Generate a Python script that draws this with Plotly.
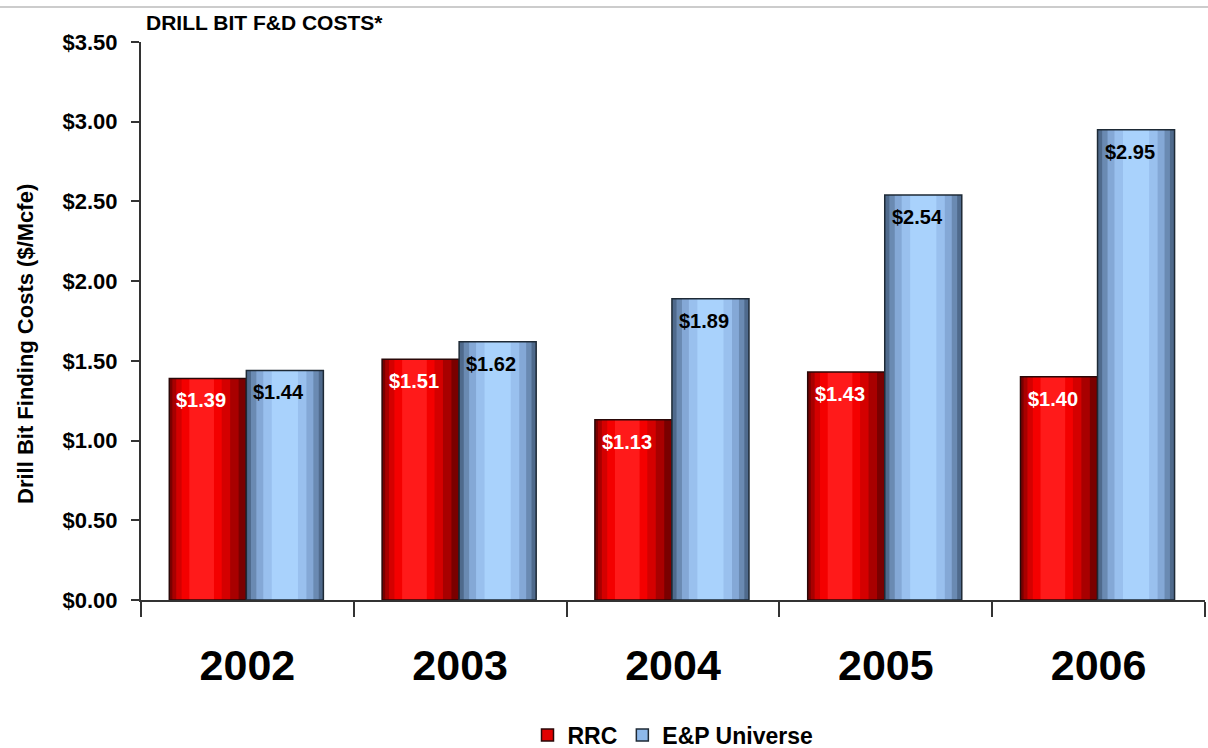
import plotly.graph_objects as go

years = ["2002", "2003", "2004", "2005", "2006"]
rrc = [1.39, 1.51, 1.13, 1.43, 1.40]
ep_universe = [1.44, 1.62, 1.89, 2.54, 2.95]
y_ticks = [0, 0.5, 1.0, 1.5, 2.0, 2.5, 3.0, 3.5]
y_tick_labels = ["$0.00", "$0.50", "$1.00", "$1.50", "$2.00", "$2.50", "$3.00", "$3.50"]

FONT = "Arial, Liberation Sans, sans-serif"
PLOT_L, PLOT_R, PLOT_T, PLOT_B = 141, 3, 42, 148
PLOT_H = 748 - PLOT_T - PLOT_B
PLOT_W = 1208 - PLOT_L - PLOT_R

def py(px):
    return (748 - PLOT_B - px) / PLOT_H

def px_(x):
    return (x - PLOT_L) / PLOT_W

BAR_W = 0.362  # bar width in category units
series = [
    dict(name="RRC", values=rrc, offset=-0.367, text_color="white",
         line="#2a0808",
         # (fraction of width, shift fraction, colour) from outer to inner
         layers=[(1.0, 0.0, "#7a0000"), (0.86, -0.03, "#a80000"), (0.70, -0.06, "#d40000"),
                 (0.52, -0.08, "#f40000"), (0.32, -0.08, "#ff1a1a")],
         legend_color="#e00000"),
    dict(name="E&P Universe", values=ep_universe, offset=-0.005, text_color="black",
         line="#1e2a36",
         layers=[(1.0, 0.0, "#4f6a8c"), (0.88, 0.0, "#6a8ab2"), (0.74, 0.0, "#84a8d6"),
                 (0.56, 0.0, "#99c0ee"), (0.34, 0.0, "#a9d2fc")],
         legend_color="#8db8ea"),
]

fig = go.Figure()
for s in series:
    for k, (frac, shift, col) in enumerate(s["layers"]):
        w = BAR_W * frac
        center = s["offset"] + BAR_W / 2 + shift * BAR_W
        fig.add_trace(go.Bar(
            x=years, y=s["values"], name=s["name"], legendgroup=s["name"],
            width=[w] * len(years), offset=[center - w / 2] * len(years),
            marker=dict(color=col, line=dict(width=0)),
            showlegend=False, hoverinfo="skip",
        ))
    # outline layer
    fig.add_trace(go.Bar(
        x=years, y=s["values"], name=s["name"], legendgroup=s["name"],
        width=[BAR_W] * len(years), offset=[s["offset"]] * len(years),
        marker=dict(color="rgba(0,0,0,0)", line=dict(color=s["line"], width=1.5)),
        showlegend=False,
    ))
    # legend entry
    fig.add_trace(go.Bar(
        x=[years[0]], y=[None], name=s["name"], legendgroup=s["name"],
        marker=dict(color=s["legend_color"], line=dict(color=s["line"], width=1.5)),
        showlegend=True,
    ))

annotations = [
    dict(text="<b>DRILL BIT F&D COSTS*</b>", xref="paper", yref="paper",
         x=0, xanchor="left", xshift=3, y=py(22), yanchor="middle",
         showarrow=False, font=dict(size=21, family=FONT)),
    dict(text="<b>Drill Bit Finding Costs ($/Mcfe)</b>", xref="paper", yref="paper",
         x=px_(25), xanchor="center", y=py(344), yanchor="middle", textangle=-90,
         showarrow=False, font=dict(size=22, family=FONT)),
]
for s in series:
    for i, v in enumerate(s["values"]):
        annotations.append(dict(
            text=f"<b>${v:.2f}</b>", x=i + s["offset"], y=v, xref="x", yref="y",
            xanchor="left", yanchor="middle", xshift=5, yshift=-22, showarrow=False,
            font=dict(size=20, family=FONT, color=s["text_color"]),
        ))

fig.update_layout(
    width=1208, height=748,
    margin=dict(l=PLOT_L, r=PLOT_R, t=PLOT_T, b=PLOT_B),
    plot_bgcolor="white", paper_bgcolor="white",
    barmode="overlay",
    font=dict(family=FONT, color="black"),
    showlegend=True,
    legend=dict(orientation="h", xref="paper", yref="container",
                x=0.5, xanchor="center", y=13/748, yanchor="middle",
                font=dict(size=23, family=FONT, weight="bold"),
                itemwidth=30, traceorder="normal", itemclick=False),
    annotations=annotations,
    shapes=[dict(type="line", xref="paper", yref="paper", x0=-0.2, x1=1.1,
                 y0=py(7), y1=py(7), line=dict(color="#cccccc", width=2))],
)
fig.update_xaxes(
    type="category", range=[-0.5, 4.5], showline=True, linecolor="#333333", linewidth=2,
    ticks="outside", tickson="boundaries", ticklen=15, tickcolor="#333333", tickwidth=2,
    tickfont=dict(size=43, family=FONT, weight="bold"), ticklabelstandoff=26,
    showgrid=False,
)
fig.update_yaxes(
    range=[0, 3.5], tickvals=y_ticks, ticktext=y_tick_labels,
    showline=True, linecolor="#333333", linewidth=2,
    ticks="outside", ticklen=8, tickcolor="#333333", tickwidth=2,
    tickfont=dict(size=22, family=FONT, weight="bold"), ticklabelstandoff=9,
    showgrid=False, zeroline=False,
)

fig.write_html("out.html")
